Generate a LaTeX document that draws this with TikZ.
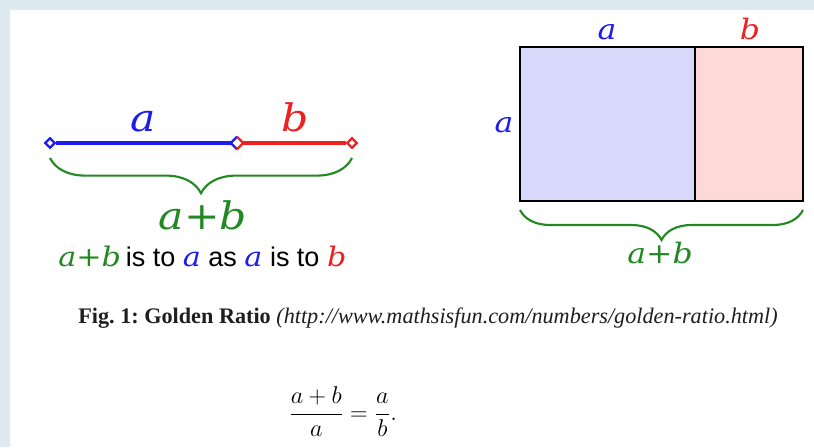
\documentclass[tikz,border=0pt]{standalone}
\usepackage[no-math]{fontspec}
\usepackage{amsmath}
\setmainfont{Liberation Serif}
\newfontfamily\dvserif{DejaVu Serif}
\newfontfamily\lsans{Liberation Sans}
\usetikzlibrary{arrows.meta,positioning,shapes.geometric,decorations.pathreplacing,calc}
\definecolor{blue}{RGB}{28,28,238}
\definecolor{red}{RGB}{238,32,32}
\definecolor{green}{RGB}{34,136,34}
\definecolor{lightblue}{RGB}{216,216,250}
\definecolor{lightred}{RGB}{255,216,216}
\definecolor{band}{RGB}{221,235,240}
\newcommand{\wide}[1]{\scalebox{1.12}[1]{#1}}
\newcommand{\mvar}[2]{\textcolor{#1}{\wide{\dvserif\itshape #2}}}

\begin{document}
\begin{tikzpicture}[x=0.025cm, y=-0.025cm,
  lbl/.style={font=\dvserif\itshape\fontsize{27}{32}\selectfont, anchor=base, inner sep=0pt},
  rlbl/.style={font=\dvserif\itshape\fontsize{20}{24}\selectfont, anchor=base, inner sep=0pt},
  tip/.style={diamond, fill=white, line width=1.6pt, inner sep=0pt, minimum size=0.26cm},
  seg/.style={line width=2.2pt},
  curly/.style={decorate, decoration={brace, amplitude=#1}, draw=green, line width=1.5pt}]
% frame
\fill[band] (0,0) rectangle (814,447);
\fill[white] (10,10) rectangle (814,447);
% line cut in a and b
\node[tip, draw=blue] (p0) at (50,143) {};
\node[tip] (p1) at (237,143) {};
\node[tip, draw=red] (p2) at (352,143) {};
\draw[seg, blue] (p0) -- (p1);
\draw[seg, red] (p1) -- (p2);
\draw[blue, line width=1.6pt] (p1.north) -- (p1.west) -- (p1.south);
\draw[red, line width=1.6pt] (p1.north) -- (p1.east) -- (p1.south);
\node[lbl, blue] (la) at (143,131) {\wide{a}};
\node[lbl, red] (lb) at (295,131) {\wide{b}};
\coordinate (bl) at (50,158);
\coordinate (br) at (352,158);
\draw[curly=0.88cm] (br) -- (bl);
\node[lbl, green] (lab) at (203,229) {\wide{a+b}};
\node[anchor=base west, inner sep=0pt, font=\lsans\fontsize{19.2}{23}\selectfont] (rule) at (58,266)
  {\mvar{green}{a+b}\hspace{3.5pt}is to \mvar{blue}{a} as \mvar{blue}{a} is to \mvar{red}{b}};
% golden rectangle
\draw[line width=1.6pt, fill=lightblue] (520,47) rectangle (695,201);
\draw[line width=1.6pt, fill=lightred] (695,47) rectangle (803,201);
\node[rlbl, blue] (ta) at (607,39) {\wide{a}};
\node[rlbl, red] (tb) at (750,39) {\wide{b}};
\node[rlbl, blue] (sa) at (504,132) {\wide{a}};
\coordinate (ql) at (520,210);
\coordinate (qr) at (803,210);
\draw[curly=0.75cm] (qr) -- (ql);
\node[rlbl, green] (tab) at (660,263) {\wide{a+b}};
% caption and ratio
\node[anchor=base west, inner sep=0pt, text=black!88, font=\frenchspacing\fontsize{15.8}{19}\selectfont] (cap) at (78,323)
  {\textbf{Fig. 1: Golden Ratio} \textit{(http://www.mathsisfun.com/numbers/golden-ratio.html)}};
\node[font=\fontsize{18}{22}\selectfont] (eq) at (343,412) {$\displaystyle\frac{a+b}{a}=\frac{a}{b}.$};
\end{tikzpicture}
\end{document}
